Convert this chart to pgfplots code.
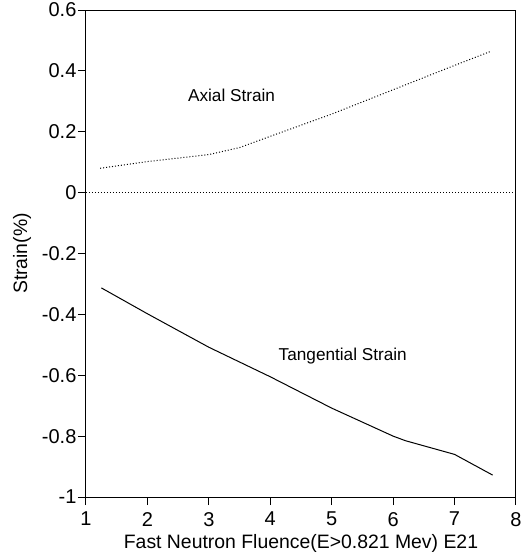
\documentclass[border=0pt]{standalone}
\usepackage{fontspec}
\setmainfont{Liberation Sans}
\usepackage{pgfplots}
\pgfplotsset{compat=1.18}

\begin{document}
\begin{tikzpicture}
\begin{axis}[
    name=ax,
    scale only axis,
    width=215pt, height=243.5pt,
    xmin=1, xmax=8,
    ymin=-1, ymax=0.6,
    xtick={1,2,3,4,5,6,7,8},
    ytick={-1,-0.8,-0.6,-0.4,-0.2,0,0.2,0.4,0.6},
    xtick pos=bottom, ytick pos=left,
    tick align=outside,
    major tick length=4pt,
    axis line style={line width=0.5pt},
    tick style={line width=0.5pt, black},
    /pgf/number format/assume math mode=true,
    /pgf/number format/fixed,
    /pgf/number format/precision=1,
    ticklabel style={font=\fontsize{10}{12}\selectfont},
    yticklabel style={inner xsep=0.6pt},
    label style={font=\fontsize{9.7}{12}\selectfont},
    xlabel={Fast Neutron Fluence(E>0.821 Mev) E21},
    ylabel={Strain(\%)},
    xlabel style={at={(axis description cs:0.5,0)}, anchor=center, yshift=-23pt},
    % ylabel is rotated, so its yshift moves it to the left
    ylabel style={at={(axis description cs:0,0.5)}, anchor=center, yshift=32pt},
]
% zero reference line
\addplot[densely dotted, line width=0.5pt] coordinates {(1,0) (8,0)};

% axial strain
\addplot[densely dotted, line width=0.5pt] coordinates {
    (1.23,0.080) (2.0,0.102) (3.0,0.125) (3.5,0.148) (4.0,0.185)
    (5.0,0.258) (6.0,0.338) (7.0,0.418) (7.6,0.465)
};

% tangential strain
\addplot[solid, line width=0.5pt] coordinates {
    (1.25,-0.313) (2.0,-0.398) (3.0,-0.508) (4.0,-0.605) (5.0,-0.708)
    (6.0,-0.800) (6.2,-0.815) (7.0,-0.860) (7.62,-0.928)
};

\node[font=\fontsize{8.6}{10}\selectfont] at (axis cs:3.37,0.318) {Axial Strain};
\node[font=\fontsize{8.6}{10}\selectfont] at (axis cs:5.18,-0.538) {Tangential Strain};
\end{axis}
\pgfresetboundingbox
\path[use as bounding box] ([xshift=-43pt, yshift=-28pt]ax.south west)
    rectangle ([xshift=3.5pt, yshift=5pt]ax.north east);
\end{tikzpicture}
\end{document}
